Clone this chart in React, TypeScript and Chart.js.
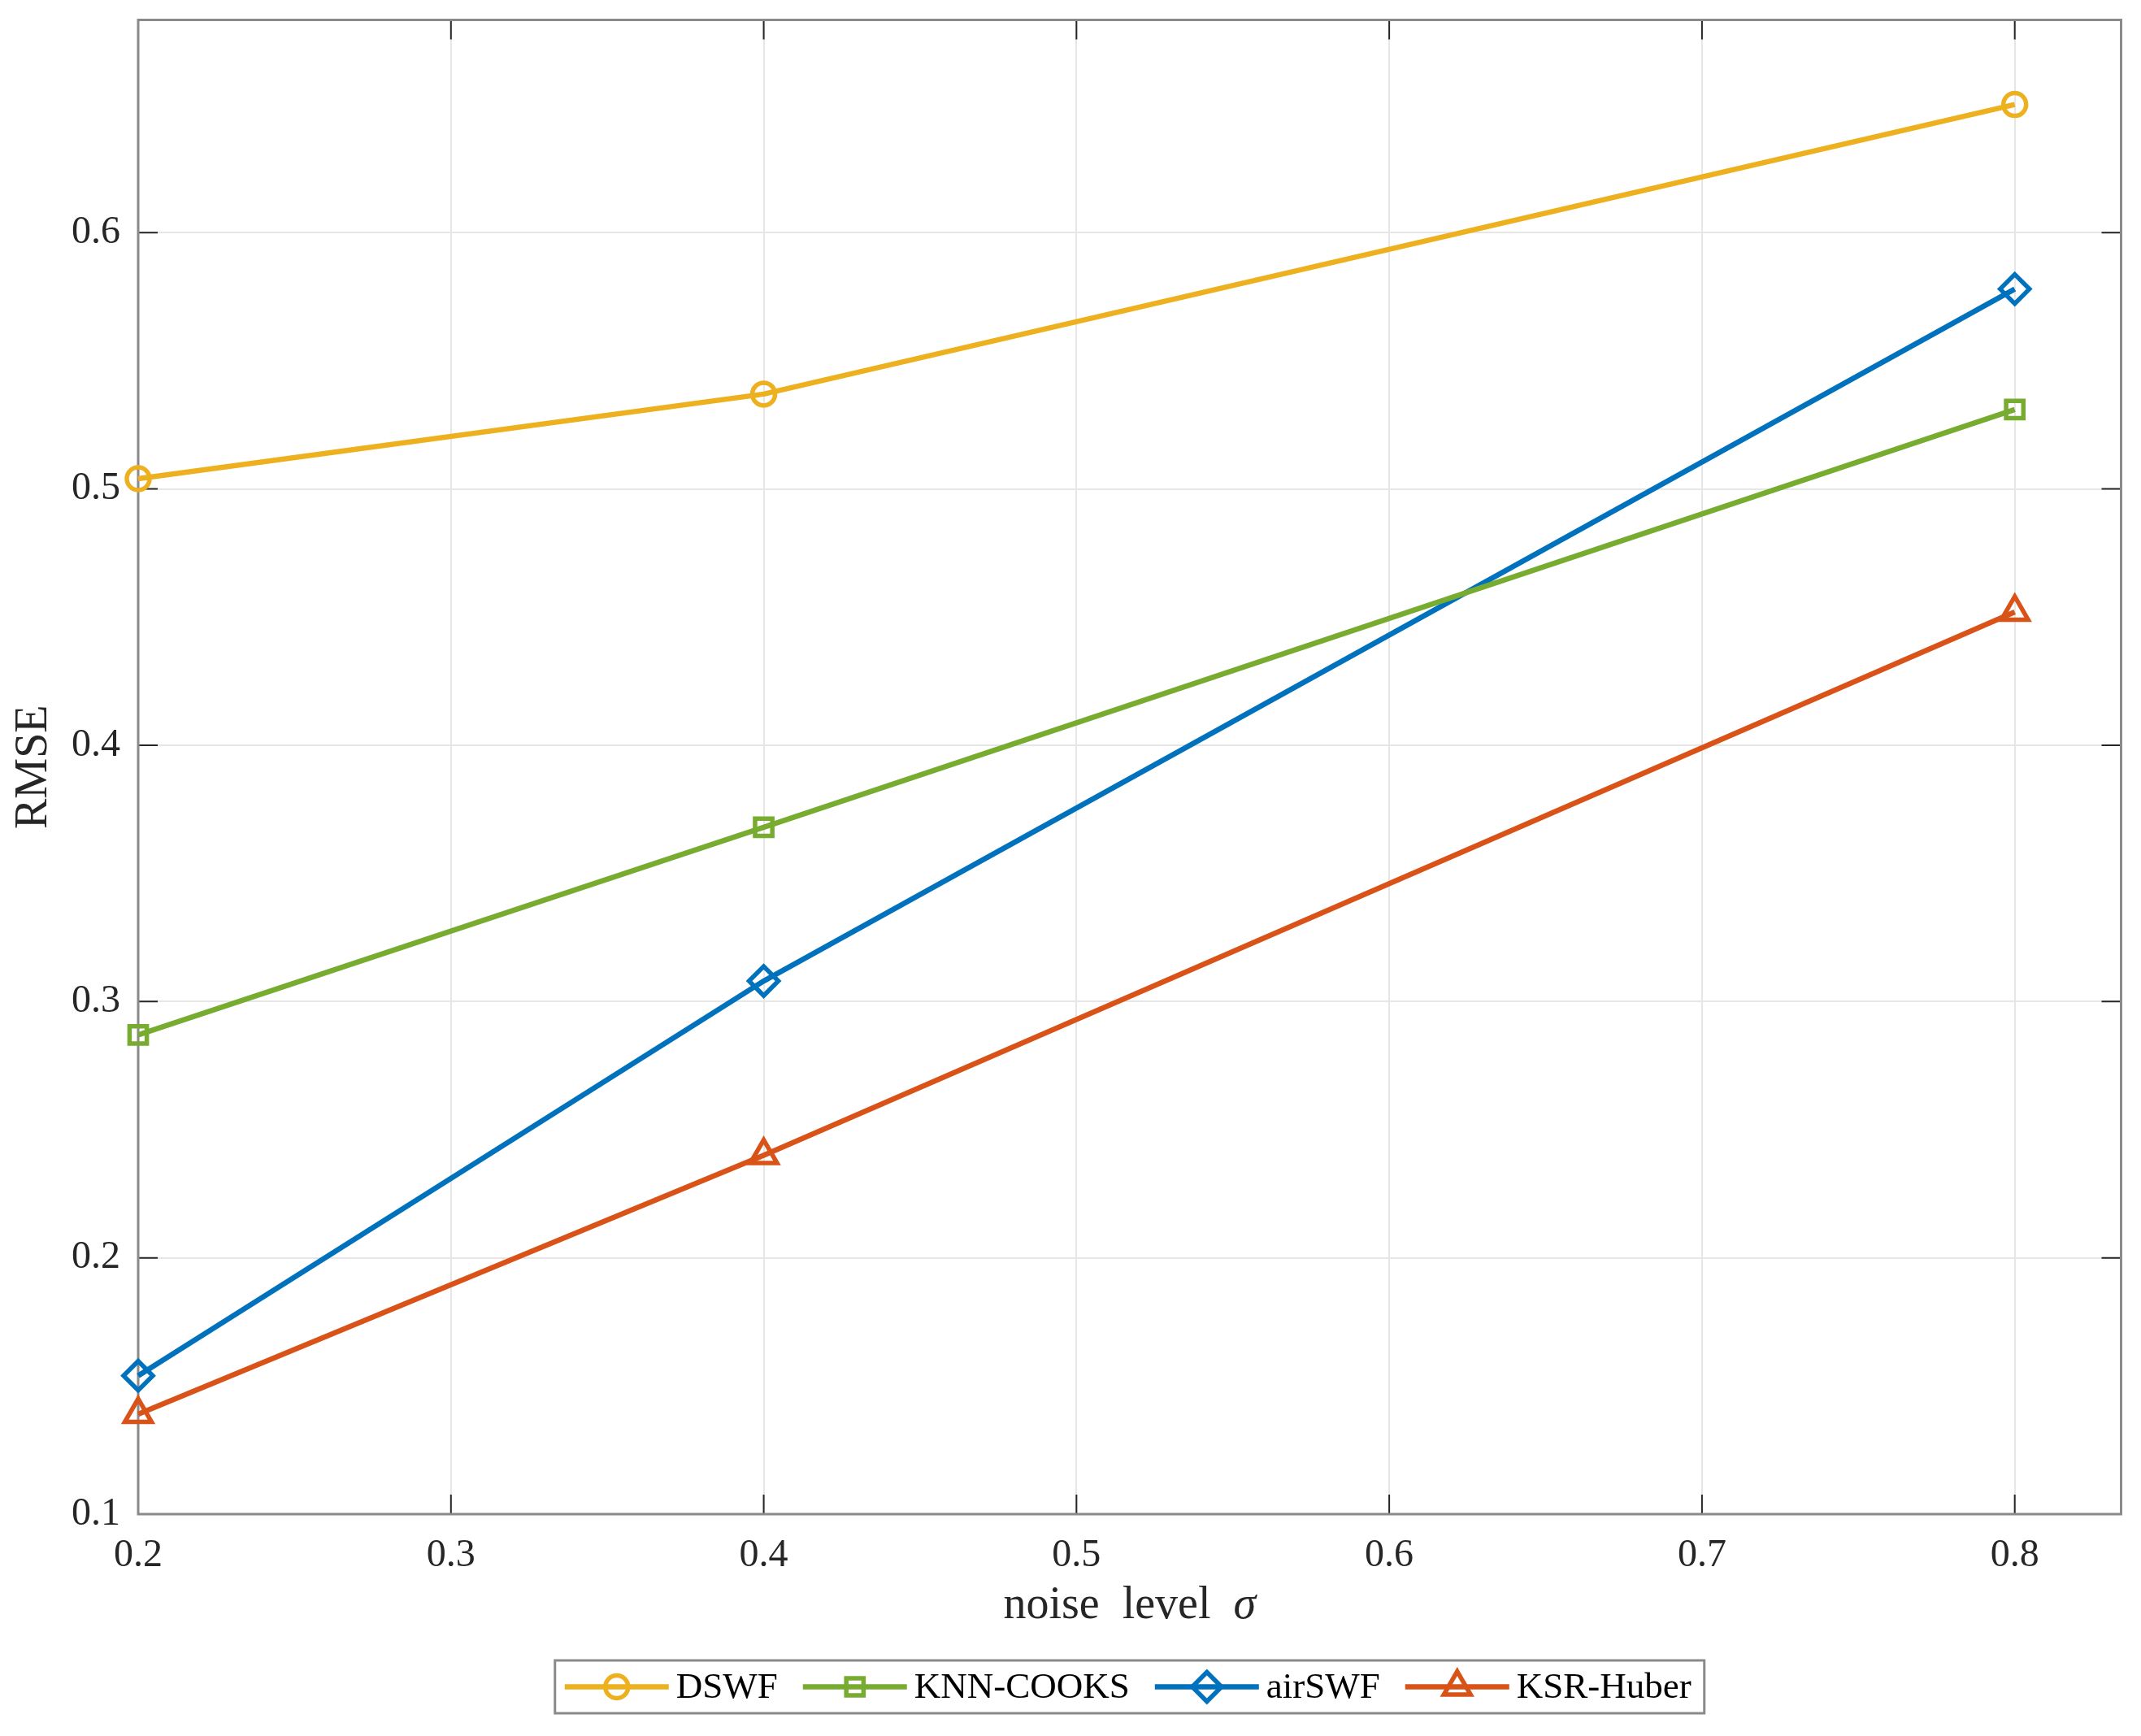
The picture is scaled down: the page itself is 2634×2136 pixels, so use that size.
import React, { useRef, useEffect } from "react";
import { Chart, registerables } from "chart.js";
import { drawPoint } from "chart.js/helpers";

Chart.register(...registerables);

// noise level sigma
const noiseLevels = [0.2, 0.4, 0.8];

const seriesNames = ["DSWF", "KNN-COOKS", "airSWF", "KSR-Huber"];
const dswfRmse = [0.504, 0.537, 0.65];
const knnCooksRmse = [0.287, 0.368, 0.531];
const airSwfRmse = [0.154, 0.308, 0.578];
const ksrHuberRmse = [0.139, 0.24, 0.452];

const xTicks = [0.2, 0.3, 0.4, 0.5, 0.6, 0.7, 0.8];
const yTicks = [0.1, 0.2, 0.3, 0.4, 0.5, 0.6];

const colors = ["#EDB120", "#77AC30", "#0072BD", "#D95319"];
const markers = ["circle", "rect", "rectRot", "triangle"];
const markerSizes = [14, 15, 18, 19];

const FONT = '"Liberation Serif", "Times New Roman", serif';

// axes box and inward ticks on all four sides
const boxPlugin = {
  id: "box",
  beforeDatasetsDraw(chart: any) {
    const { ctx, chartArea: a, scales } = chart;
    ctx.save();
    ctx.strokeStyle = "#262626";
    ctx.lineWidth = 2;
    const tl = 24;
    for (const v of xTicks) {
      const x = scales.x.getPixelForValue(v);
      ctx.beginPath();
      ctx.moveTo(x, a.bottom);
      ctx.lineTo(x, a.bottom - tl);
      ctx.moveTo(x, a.top);
      ctx.lineTo(x, a.top + tl);
      ctx.stroke();
    }
    for (const v of yTicks) {
      const y = scales.y.getPixelForValue(v);
      ctx.beginPath();
      ctx.moveTo(a.left, y);
      ctx.lineTo(a.left + tl, y);
      ctx.moveTo(a.right, y);
      ctx.lineTo(a.right - tl, y);
      ctx.stroke();
    }
    ctx.strokeStyle = "#8a8a8a";
    ctx.lineWidth = 3;
    ctx.strokeRect(a.left, a.top, a.right - a.left, a.bottom - a.top);
    ctx.restore();
  },
};

// x axis title with italic sigma
const xTitlePlugin = {
  id: "xTitle",
  afterDraw(chart: any) {
    const { ctx, chartArea: a } = chart;
    const plain = "noise  level  ";
    const sym = "σ";
    ctx.save();
    ctx.fillStyle = "#262626";
    ctx.textBaseline = "alphabetic";
    ctx.textAlign = "left";
    ctx.font = `56px ${FONT}`;
    const w1 = ctx.measureText(plain).width;
    ctx.font = `italic 56px ${FONT}`;
    const w2 = ctx.measureText(sym).width;
    const x0 = (a.left + a.right) / 2 - (w1 + w2) / 2;
    const y = a.bottom + 128;
    ctx.font = `56px ${FONT}`;
    ctx.fillText(plain, x0, y);
    ctx.font = `italic 56px ${FONT}`;
    ctx.fillText(sym, x0 + w1, y);
    ctx.restore();
  },
};

// boxed legend below the axes, line + marker per entry
const legendPlugin = {
  id: "boxLegend",
  afterDraw(chart: any) {
    const { ctx, chartArea: a } = chart;
    const ds = chart.data.datasets;
    ctx.save();
    ctx.font = `45px ${FONT}`;
    const lineLen = 128;
    const gapText = 9;
    const gapItem = 31;
    const padL = 12;
    const padR = 16;
    const widths = ds.map((d: any) => ctx.measureText(d.label).width);
    let total = padL + padR + gapItem * (ds.length - 1);
    widths.forEach((w: number) => (total += lineLen + gapText + w));
    const left = (a.left + a.right) / 2 - total / 2;
    const top = a.bottom + 180;
    const h = 65;
    ctx.fillStyle = "#fff";
    ctx.fillRect(left, top, total, h);
    ctx.strokeStyle = "#8a8a8a";
    ctx.lineWidth = 3;
    ctx.strokeRect(left, top, total, h);
    const cy = top + h / 2;
    let x = left + padL;
    ds.forEach((d: any, i: number) => {
      ctx.strokeStyle = d.borderColor;
      ctx.lineWidth = d.borderWidth;
      ctx.beginPath();
      ctx.moveTo(x, cy);
      ctx.lineTo(x + lineLen, cy);
      ctx.stroke();
      ctx.fillStyle = "rgba(0,0,0,0)";
      ctx.lineWidth = d.pointBorderWidth;
      drawPoint(
        ctx,
        { pointStyle: d.pointStyle, radius: d.pointRadius, rotation: 0, borderWidth: d.pointBorderWidth },
        x + lineLen / 2,
        cy
      );
      x += lineLen + gapText;
      ctx.fillStyle = "#000";
      ctx.textAlign = "left";
      ctx.textBaseline = "middle";
      ctx.fillText(d.label, x, cy + 2);
      x += widths[i] + gapItem;
    });
    ctx.restore();
  },
};

const App: React.FC = () => {
  const chartRef = useRef<HTMLCanvasElement | null>(null);
  const chartInstance = useRef<Chart | null>(null);

  useEffect(() => {
    document.body.style.margin = "0";
    if (chartInstance.current) {
      chartInstance.current.destroy();
    }
    if (!chartRef.current) return;

    const values = [dswfRmse, knnCooksRmse, airSwfRmse, ksrHuberRmse];
    const datasets = seriesNames.map((name, i) => ({
      label: name,
      data: noiseLevels.map((x, j) => ({ x, y: values[i][j] })),
      borderColor: colors[i],
      borderWidth: 6.5,
      pointStyle: markers[i],
      pointRadius: markerSizes[i],
      pointBorderWidth: 5.5,
      pointBorderColor: colors[i],
      pointBackgroundColor: "rgba(0,0,0,0)",
      tension: 0,
      clip: false,
    }));

    chartInstance.current = new Chart(chartRef.current, {
      type: "line",
      data: { datasets } as any,
      options: {
        animation: false,
        responsive: false,
        layout: { padding: { top: 23, right: 24, left: 0, bottom: 0 } },
        plugins: {
          legend: { display: false },
          tooltip: { enabled: false },
        },
        scales: {
          x: {
            type: "linear",
            min: 0.2,
            max: 0.834,
            afterBuildTicks: (scale: any) => {
              scale.ticks = xTicks.map((v) => ({ value: v }));
            },
            afterFit: (scale: any) => {
              scale.height = 273;
              scale.paddingLeft = 0;
              scale.paddingRight = 0;
            },
            ticks: {
              padding: 27,
              color: "#262626",
              font: { family: FONT, size: 48, lineHeight: 1 },
              callback: (v: any) => Number(v).toFixed(1),
            },
            grid: { color: "#e6e6e6", lineWidth: 2, drawTicks: false },
            border: { display: false },
          },
          y: {
            type: "linear",
            min: 0.1,
            max: 0.683,
            afterBuildTicks: (scale: any) => {
              scale.ticks = yTicks.map((v) => ({ value: v }));
            },
            afterFit: (scale: any) => {
              scale.width = 170;
              scale.paddingTop = 0;
              scale.paddingBottom = 0;
            },
            ticks: {
              padding: 22,
              color: "#262626",
              font: { family: FONT, size: 48, lineHeight: 1 },
              callback: (v: any) => Number(v).toFixed(1),
            },
            grid: { color: "#e6e6e6", lineWidth: 2, drawTicks: false },
            border: { display: false },
            title: {
              display: true,
              text: "RMSE",
              color: "#262626",
              font: { family: FONT, size: 56, lineHeight: 1 },
              padding: { top: 14, bottom: 0 },
            },
          },
        },
      },
      plugins: [boxPlugin, xTitlePlugin, legendPlugin],
    });

    return () => {
      if (chartInstance.current) {
        chartInstance.current.destroy();
        chartInstance.current = null;
      }
    };
  }, []);

  return (
    <div style={{ width: 2634, height: 2136, background: "#fff" }}>
      <canvas ref={chartRef} width={2634} height={2136} style={{ display: "block" }}></canvas>
    </div>
  );
};

export default App;
